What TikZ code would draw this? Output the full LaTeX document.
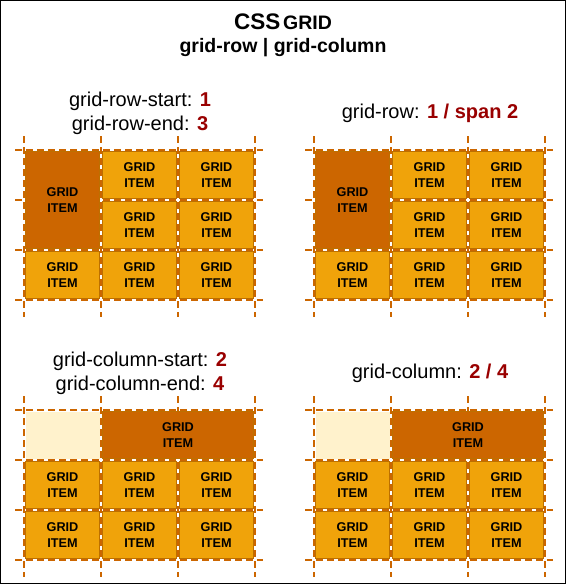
\documentclass[tikz,border=0pt]{standalone}
\usepackage{fontspec}
\setmainfont{Liberation Sans}
\definecolor{itemfill}{HTML}{F0A30A}
\definecolor{itemstroke}{HTML}{BD7000}
\definecolor{darkfill}{HTML}{CC6600}
\definecolor{lightfill}{HTML}{FFF2CC}
\definecolor{linecol}{HTML}{CC6600}
\definecolor{numred}{HTML}{990000}
\tikzset{
  item/.style={draw=itemstroke, fill=itemfill, line width=1pt, minimum width=74pt, minimum height=47pt, inner sep=0pt, font=\bfseries\fontsize{12.7}{16}\selectfont, align=center, text=black},
  darkitem/.style={item, fill=darkfill},
  lightcell/.style={fill=lightfill, draw=none, minimum width=74pt, minimum height=47pt, inner sep=0pt},
  gline/.style={draw=linecol, line width=2pt, dash pattern=on 7pt off 4pt},
  lbl/.style={font=\fontsize{20}{24}\selectfont, anchor=base, inner sep=0pt},
}
\newcommand\drawgridlines{%
  \foreach \gx in {0,77,154,231} \draw[gline] (\gx,-14) -- (\gx,167);
  \foreach \gy in {0,50,100,150} \draw[gline] (-9,\gy) -- (239,\gy);
}
\newcommand\rowpanel[1]{%
  \drawgridlines
  \node[darkitem, minimum height=97pt] (#1d) at (38.5,50) {GRID\\ITEM};
  \foreach \c/\r/\n in {2/1/a, 3/1/b, 2/2/c, 3/2/d, 1/3/e, 2/3/f, 3/3/g}
    \node[item] (#1\n) at ({77*\c-38.5},{50*\r-25}) {GRID\\ITEM};
}
\newcommand\colpanel[1]{%
  \drawgridlines
  \node[lightcell] (#1l) at (38.5,25) {};
  \node[darkitem, minimum width=151pt] (#1d) at (154,25) {GRID\\ITEM};
  \foreach \c/\r/\n in {1/2/a, 2/2/b, 3/2/c, 1/3/e, 2/3/f, 3/3/g}
    \node[item] (#1\n) at ({77*\c-38.5},{50*\r-25}) {GRID\\ITEM};
}
\begin{document}
\begin{tikzpicture}[x=1pt, y=-1pt]
  \useasboundingbox (0,0) rectangle (566,584);
  \draw[black, line width=1pt] (0.5,0.5) rectangle (565.5,583.5);
  % title
  \node[anchor=base, font=\bfseries, inner sep=0pt] (title) at (283,29)
    {{\fontsize{22.5}{26}\selectfont CSS} {\fontsize{19.5}{23}\selectfont GRID}};
  \node[anchor=base, font=\bfseries\fontsize{19.5}{23}\selectfont, inner sep=0pt] (subtitle) at (283,52)
    {grid-row | grid-column};
  % labels
  \node[lbl] (ltl1) at (140,106) {grid-row-start: \textcolor{numred}{\bfseries 1}};
  \node[lbl] (ltl2) at (140,130) {grid-row-end: \textcolor{numred}{\bfseries 3}};
  \node[lbl] (ltr) at (430,118) {grid-row: \textcolor{numred}{\bfseries 1 / span 2}};
  \node[lbl] (lbl1) at (140,366) {grid-column-start: \textcolor{numred}{\bfseries 2}};
  \node[lbl] (lbl2) at (140,390) {grid-column-end: \textcolor{numred}{\bfseries 4}};
  \node[lbl] (lbr) at (430,378) {grid-column: \textcolor{numred}{\bfseries 2 / 4}};
  % panels
  \begin{scope}[shift={(24,150)}] \rowpanel{tl} \end{scope}
  \begin{scope}[shift={(314,150)}] \rowpanel{tr} \end{scope}
  \begin{scope}[shift={(24,410)}] \colpanel{bl} \end{scope}
  \begin{scope}[shift={(314,410)}] \colpanel{br} \end{scope}
\end{tikzpicture}
\end{document}
